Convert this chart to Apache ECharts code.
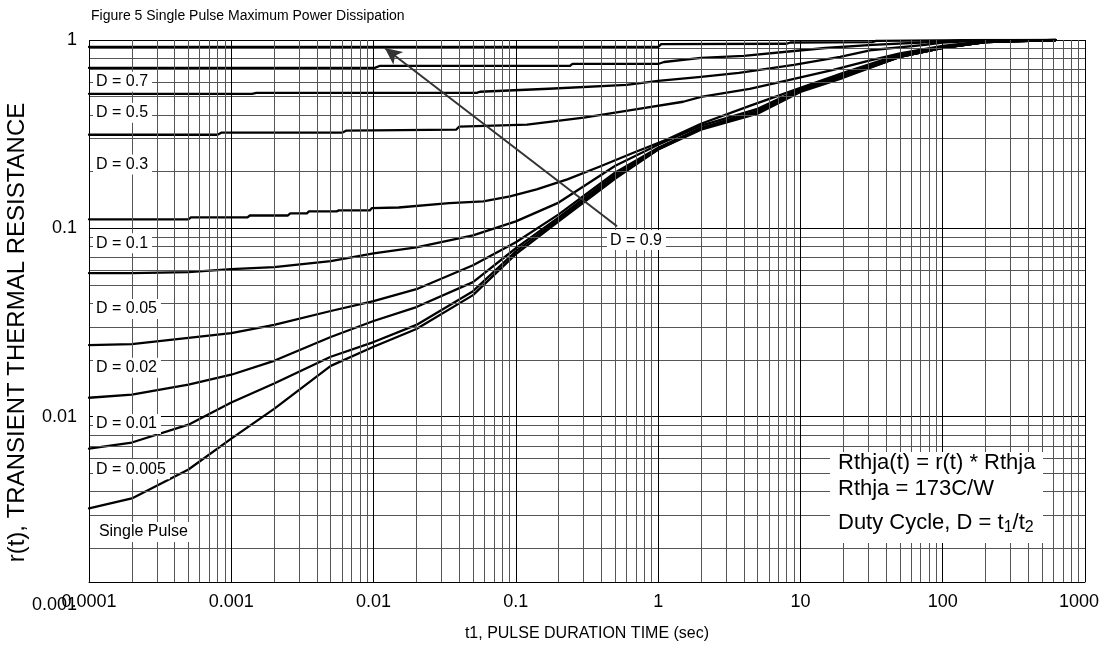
<!DOCTYPE html>
<html><head><meta charset="utf-8">
<script src="https://cdn.jsdelivr.net/npm/echarts@6/dist/echarts.min.js"></script>
<style>html,body{margin:0;padding:0;background:#fff}#c{width:1100px;height:650px}</style>
</head><body><div id="c"></div>
<script>
// ---- axis ranges and tick labels ----
const X_MIN = 1e-4, X_MAX = 1000, Y_MIN = 0.001, Y_MAX = 1;
const FRAME_BOTTOM = 0.001325;           // the printed frame stops a little above 0.001
const xTickLabels = ['0.0001','0.001','0.01','0.1','1','10','100','1000'];
const yTickLabels = ['0.001','0.01','0.1','1'];

// ---- shared time base for the low duty-cycle curves (sec) ----
const tSec = [1e-4,2e-4,5e-4,1e-3,2e-3,5e-3,0.01,0.02,0.05,0.1,0.2,0.5,1,2,5,10,20,50,100,200,620];
const rD005   = [0.0578,0.0578,0.0585,0.0607,0.0622,0.0669,0.0737,0.0793,0.0918,0.1089,0.137,0.215,0.278,0.351,0.431,0.551,0.653,0.823,0.907,0.976,1.0];
const rD002   = [0.0240,0.0243,0.0262,0.0278,0.0307,0.0364,0.0411,0.0475,0.0637,0.0843,0.1186,0.198,0.268,0.342,0.421,0.551,0.653,0.813,0.907,0.976,1.0];
const rD001   = [0.0126,0.0131,0.0148,0.0167,0.0198,0.0265,0.0322,0.0382,0.0518,0.0784,0.1143,0.193,0.265,0.338,0.416,0.544,0.645,0.813,0.907,0.976,1.0];
const rD0005  = [0.00677,0.00729,0.00907,0.0119,0.0150,0.0208,0.0249,0.0307,0.0464,0.0755,0.1116,0.188,0.262,0.338,0.411,0.537,0.637,0.813,0.907,0.976,1.0];
const rSingle = [0.00326,0.00368,0.00524,0.00765,0.0110,0.0186,0.0235,0.0292,0.0442,0.0729,0.1089,0.184,0.262,0.334,0.406,0.530,0.630,0.813,0.907,0.976,1.0];

// ---- high duty-cycle curves, [t, r(t)] pairs ----
const rD09 = [[1e-4,0.918],[1.0,0.918],[1.05,0.95],[8,0.955],[8.5,0.97],[32,0.975],[34,0.99],[100,0.995],[200,1.0],[620,1.0]];
const rD07 = [[1e-4,0.711],[0.0102,0.711],[0.011,0.728],[0.24,0.728],[0.25,0.746],[1.0,0.746],[1.1,0.764],[2,0.803],[4,0.823],[9,0.874],[15,0.907],[32,0.941],[85,0.976],[150,0.995],[620,1.0]];
const rD05 = [[1e-4,0.518],[0.0014,0.518],[0.0015,0.524],[0.053,0.524],[0.056,0.531],[0.17,0.551],[0.6,0.578],[1,0.607],[2,0.637],[3.7,0.669],[9,0.738],[19,0.813],[32,0.885],[75,0.941],[100,0.97],[200,0.995],[620,1.0]];
const rD03 = [[1e-4,0.314],[0.0008,0.314],[0.00085,0.322],[0.006,0.322],[0.0064,0.33],[0.038,0.334],[0.04,0.347],[0.12,0.355],[0.3,0.387],[0.66,0.426],[1.5,0.47],[2,0.499],[4.4,0.55],[8.4,0.614],[17,0.694],[29,0.77],[50,0.85],[100,0.93],[200,0.985],[620,1.0]];
const rD01 = [[1e-4,0.1116],[5e-4,0.1116],[5.2e-4,0.1143],[0.0013,0.1143],[0.00135,0.117],[0.0025,0.117],[0.0026,0.12],[0.0034,0.12],[0.0035,0.123],[0.0055,0.123],[0.0057,0.1245],[0.0094,0.1245],[0.0097,0.128],[0.015,0.129],[0.034,0.136],[0.059,0.139],[0.091,0.148],[0.14,0.161],[0.23,0.182],[0.39,0.213],[0.67,0.252],[1.15,0.296],[2,0.359],[4.4,0.447],[10,0.557],[20,0.67],[50,0.84],[100,0.92],[200,0.98],[620,1.0]];

// ---- annotation text ----
const curveLabels = [
  ['D = 0.7', 1.05e-4, 0.600],
  ['D = 0.5', 1.05e-4, 0.411],
  ['D = 0.3', 1.05e-4, 0.218],
  ['D = 0.1', 1.05e-4, 0.0834],
  ['D = 0.05', 1.05e-4, 0.0373],
  ['D = 0.02', 1.05e-4, 0.0182],
  ['D = 0.01', 1.05e-4, 0.00915],
  ['D = 0.005', 1.05e-4, 0.00525],
  ['Single Pulse', 1.1e-4, 0.00244],
  ['D = 0.9', 0.43, 0.0866]
];
const arrowFrom = [0.514, 0.1025], arrowTo = [0.012, 0.907];
const titleText = 'Figure 5 Single Pulse Maximum Power Dissipation';
const xName = 't1, PULSE DURATION TIME (sec)';
const yName = 'r(t), TRANSIENT THERMAL RESISTANCE';
const noteLines = ['Rthja(t) = r(t) * Rthja', 'Rthja = 173C/W', 'Duty Cycle, D = t{s|1}/t{s|2}'];

const FONT = 'Liberation Sans, Arial, Helvetica, sans-serif';

// grid lines through the axis scales
const gridLines = [];
for (let e = -3; e <= 0; e++) {
  for (let m = 1; m <= 9; m++) {
    const v = m * Math.pow(10, e);
    if (v <= FRAME_BOTTOM || v > Y_MAX * 1.0001) continue;
    gridLines.push([{coord:[X_MIN, v], lineStyle:{color: m === 1 ? '#000' : '#555', width:1, type:'solid'}}, {coord:[X_MAX, v]}]);
  }
}
for (let e = -4; e <= 3; e++) {
  for (let m = 1; m <= 9; m++) {
    const v = m * Math.pow(10, e);
    if (v > X_MAX * 1.0001) continue;
    gridLines.push([{coord:[v, FRAME_BOTTOM], lineStyle:{color: m === 1 ? '#000' : '#555', width:1, type:'solid'}}, {coord:[v, Y_MAX]}]);
  }
}

const zip = (xs, ys) => xs.map((x, i) => [x, ys[i]]);
const curves = [
  ['D=0.9', rD09], ['D=0.7', rD07], ['D=0.5', rD05], ['D=0.3', rD03], ['D=0.1', rD01],
  ['D=0.05', zip(tSec, rD005)], ['D=0.02', zip(tSec, rD002)], ['D=0.01', zip(tSec, rD001)],
  ['D=0.005', zip(tSec, rD0005)], ['Single', zip(tSec, rSingle)]
];

const series = [{
  type: 'line', data: [], silent: true, z: 1,
  markLine: { silent: true, symbol: ['none','none'], label: {show:false}, animation: false,
    lineStyle: {type: 'solid'}, data: gridLines }
}];
curves.forEach(([n, d]) => series.push({
  name: n, type: 'line', data: d, showSymbol: false, z: 3, silent: true, smooth: false,
  lineStyle: {color: '#000', width: 2.3, join: 'round', cap: 'round'}, animation: false
}));
series.push({
  type: 'line', data: [], z: 4, silent: true,
  markLine: { silent: true, symbol: ['none','arrow'], symbolSize: [12, 17], label:{show:false}, animation:false,
    lineStyle: {color:'#333', width: 2, type:'solid'},
    data: [[{coord: arrowFrom}, {coord: arrowTo}]] }
});
series.push({
  type: 'scatter', z: 5, symbolSize: 0, silent: true, animation: false,
  itemStyle: {opacity: 1},
  data: curveLabels.map(l => [l[1], l[2], l[0]]),
  label: { show: true, position: 'right', distance: 1, formatter: p => p.data[2],
    backgroundColor: '#fff', padding: [2, 4, 2, 3], color: '#000', fontSize: 16, fontFamily: FONT, opacity: 1 }
});

const chart = echarts.init(document.getElementById('c'), null, {renderer: 'canvas'});
chart.setOption({
  backgroundColor: '#fff',
  animation: false,
  title: { text: titleText, left: 86, top: 4, textStyle: {fontSize: 14, fontWeight: 'normal', color: '#000', fontFamily: FONT} },
  grid: { left: 89, right: 15, top: 40, bottom: 45, containLabel: false, outerBoundsMode: 'none' },
  xAxis: {
    type: 'log', logBase: 10, min: X_MIN, max: X_MAX, offset: -23,
    axisLine: {show: true, lineStyle: {color: '#000', width: 1}},
    axisTick: {show: false}, splitLine: {show: false}, minorTick: {show:false},
    axisLabel: { margin: 11, fontSize: 18, color: '#000', fontFamily: FONT,
      formatter: v => {
        const i = Math.round(Math.log10(v)) + 4;
        return i === xTickLabels.length - 1 ? '{last|' + xTickLabels[i] + '}' : xTickLabels[i];
      },
      rich: { last: {fontSize: 18, fontFamily: FONT, color: '#000', padding: [0, 12, 0, 0]} } },
    name: xName, nameLocation: 'middle', nameGap: 44, nameMoveOverlap: false,
    nameTextStyle: {fontSize: 16, color: '#000', fontFamily: FONT}
  },
  yAxis: {
    type: 'log', logBase: 10, min: Y_MIN, max: Y_MAX,
    axisLine: {show: false}, axisTick: {show: false}, splitLine: {show: false},
    axisLabel: { margin: 12, fontSize: 18, color: '#000', fontFamily: FONT,
      formatter: v => yTickLabels[Math.round(Math.log10(v)) + 3] },
    name: yName, nameLocation: 'middle', nameGap: 60, nameRotate: 90, nameMoveOverlap: false,
    nameTextStyle: {fontSize: 24, color: '#000', fontFamily: FONT, padding: [0, 20, 0, 0]}
  },
  graphic: [{
    type: 'group', z: 100,
    children: [
      { type: 'rect', shape: {x: 830, y: 452, width: 213, height: 91}, style: {fill: '#fff'}, z: 100 },
      { type: 'text', x: 838, y: 452, z: 101, style: {text: noteLines[0], fontSize: 22, fontFamily: FONT, fill: '#000'} },
      { type: 'text', x: 838, y: 478, z: 101, style: {text: noteLines[1], fontSize: 22, fontFamily: FONT, fill: '#000'} },
      { type: 'text', x: 838, y: 510, z: 101, style: {text: noteLines[2], fontSize: 22, fontFamily: FONT, fill: '#000',
          rich: { s: {fontSize: 16, fontFamily: FONT, fill: '#000', padding: [10, 0, 0, 0]} } } }
    ]
  }],
  series
});
</script></body></html>
